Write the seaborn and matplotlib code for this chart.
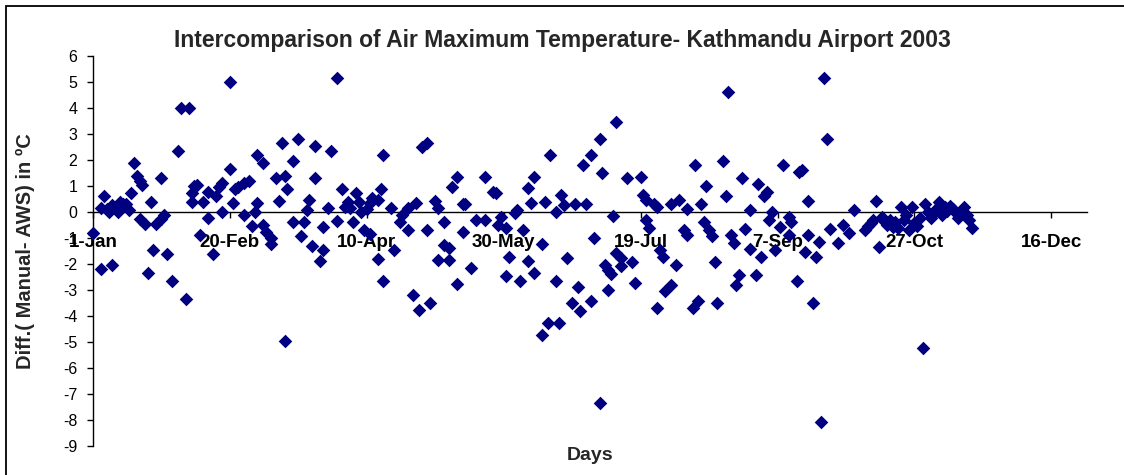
import matplotlib
matplotlib.use("Agg")
import matplotlib.pyplot as plt
import seaborn as sns
import pandas as pd
from matplotlib.patches import Rectangle

# ---------------------------------------
# data: day of year (0 = 1-Jan) and Manual-AWS difference
# ---------------------------------------
days = [
    0, 3, 3, 4, 5, 6, 7, 7, 9, 10, 11, 12, 13, 14, 15, 16, 17, 17, 18, 19,
    20, 21, 22, 23, 25, 25, 26, 27, 29, 31, 32, 34, 35, 36, 36, 37, 38, 39, 40, 42,
    42, 44, 45, 46, 47, 47, 50, 50, 51, 52,
    53, 55, 55, 57, 58, 59, 60, 60, 62, 62, 63, 65, 65, 67, 68, 69, 70, 70, 71, 73,
    73, 75, 76, 77, 78, 79, 80, 81, 81, 83, 84, 84, 86, 87, 89, 89, 91, 92, 93, 94,
    95, 96, 97, 98, 99, 100, 101, 101, 102, 104, 104, 105, 106, 106,
    109, 110, 112, 113, 115, 115, 117, 118, 119, 120, 122, 122, 123, 125, 126, 126, 128, 128, 130, 130,
    131, 133, 133, 135, 135, 136, 138, 140, 143, 143, 146, 147, 148, 149, 151, 151, 152, 154, 155, 156,
    157, 159, 159, 160, 161, 161,
    164, 164, 165, 166, 167, 169, 169, 170, 171, 172, 173, 175, 176, 177, 178, 179, 180, 182, 182, 183,
    185, 185, 186, 187, 188, 188, 189, 190, 191, 191, 193, 193, 195, 197, 198, 200, 201, 202, 202, 203,
    205, 206, 206, 207, 208, 209, 211, 211, 213, 214, 216,
    217, 217, 219, 220, 221, 222, 223, 224, 225, 226, 227, 228, 230, 231, 232, 233, 234, 235, 236, 237,
    238, 240, 240, 242, 243, 244, 245, 246, 247, 248, 249, 251, 252, 254, 254, 255, 257, 258, 259, 260,
    261, 261, 263, 264, 265, 266, 267, 268, 269,
    272, 274, 276, 278, 282, 283, 284, 285, 286, 287, 288, 289, 290, 291, 292, 293, 294, 295, 296, 297,
    298, 299, 300, 301, 302, 303, 304, 305, 306, 307, 308, 309, 310, 311, 312, 313, 314, 315, 316, 317,
    318, 319, 320, 321,
]
diff = [
    -0.8, 0.15, -2.2, 0.6, 0.1, 0.0, -2.05, 0.27, 0.0, 0.4, 0.3, 0.3, 0.08, 0.75, 1.9, 1.4, -0.25, 1.2, 1.05, -0.45,
    -2.35, 0.4, -1.45, -0.45, -0.25, 1.3, -0.12, -1.6, -2.65, 2.35, 4.0, -3.35, 4.0, 0.72, 0.4, 1.0, 1.05, -0.88, 0.4, -0.24,
    0.78, -1.6, 0.63, 0.97, 1.1, 0.0, 5.0, 1.65, 0.33, 0.9,
    0.97, 1.1, -0.12, 1.2, -0.53, 0.0, 2.2, 0.33, 1.87, -0.5, -0.76, -1.0, -1.23, 1.3, 0.44, 2.65, 1.4, -4.95, 0.9, 1.96,
    -0.37, 2.8, -0.92, -0.37, 0.08, 0.46, -1.31, 2.55, 1.3, -1.9, -0.56, -1.46, 0.14, 2.35, 5.15, -0.33, 0.9, 0.2, 0.4, 0.14,
    -0.37, 0.72, 0.4, 0.0, -0.7, 0.1, -0.85, 0.33, 0.53, 0.46, -1.82, 0.9, -2.65, 2.2,
    0.14, -1.46, -0.37, -0.12, 0.14, -0.7, -3.2, 0.33, -3.75, 2.5, -0.7, 2.65, -3.5, 0.44, 0.14, -1.85, -0.37, -1.25, -1.85, -1.4,
    0.97, 1.33, -2.75, 0.31, -0.76, 0.31, -2.17, -0.31, -0.31, 1.36, 0.78, 0.72, -0.5, -0.18, -2.45, -0.63, -1.74, -0.05, 0.08, -2.65,
    -0.7, -1.87, 0.91, 0.33, 1.36, -2.36,
    -1.23, -4.73, 0.37, -4.26, 2.18, 0.0, -2.65, -4.26, 0.65, 0.27, -1.77, -3.49, 0.31, -2.9, -3.81, 1.81, 0.31, -3.41, 2.19, -0.99,
    -7.36, 2.8, 1.51, -2.04, -3.0, -2.23, -2.38, -0.15, 3.47, -1.59, -1.78, -2.08, 1.29, -1.91, -2.72, 1.36, 0.65, 0.46, -0.31, -0.63,
    0.31, -3.7, 0.18, -1.46, -1.74, -3.03, -2.8, 0.31, -2.04, 0.46, -0.7,
    0.1, -0.88, -3.7, 1.81, -3.41, 0.31, -0.37, 1.0, -0.7, -0.92, -1.91, -3.49, 1.96, 0.62, 4.63, -0.88, -1.18, -2.8, -2.42, 1.29,
    -0.67, 0.08, -1.44, -2.42, 1.08, -1.74, 0.62, 0.78, -0.31, 0.0, -1.46, -0.56, 1.81, -0.18, -0.88, -0.37, -2.65, 1.55, 1.6, -1.53,
    0.44, -0.88, -3.49, -1.74, -1.14, -8.06, 5.14, 2.8, -0.67,
    -1.2, -0.5, -0.82, 0.08, -0.7, -0.55, -0.44, -0.3, 0.44, -1.33, -0.18, -0.35, -0.5, -0.3, -0.56, -0.4, -0.6, 0.2, -0.31, -0.12,
    -0.7, 0.2, -0.44, -0.55, -0.24, -5.24, 0.31, 0.0, -0.24, -0.05, 0.1, 0.4, -0.1, 0.2, 0.05, 0.23, 0.1, -0.05, -0.24, 0.0,
    0.2, -0.1, -0.31, -0.63,
]

tick_days = [0, 50, 100, 150, 200, 250, 300, 350]
tick_labels = ["1-Jan", "20-Feb", "10-Apr", "30-May", "19-Jul", "7-Sep", "27-Oct", "16-Dec"]
y_ticks = list(range(-9, 7))

df = pd.DataFrame({"day": days, "diff": diff})

# ---------------------------------------
# plot
# ---------------------------------------
sns.set_style("ticks")
plt.rcParams["font.family"] = ["Liberation Sans", "DejaVu Sans"]

W, H = 1124, 475
fig = plt.figure(figsize=(W / 100, H / 100), dpi=100)
ax = fig.add_axes([93 / W, 29 / H, 994 / W, 390 / H])

sns.scatterplot(data=df, x="day", y="diff", marker="D", s=48, color="#000080",
                linewidth=0, ax=ax, zorder=3, clip_on=False)

# x axis crosses at zero (do this before styling ticks, it resets them)
ax.spines["bottom"].set_position(("data", 0))
ax.spines["top"].set_visible(False)
ax.spines["right"].set_visible(False)
for sp in ["bottom", "left"]:
    ax.spines[sp].set_color("black")
    ax.spines[sp].set_linewidth(1.0)

ax.set_xlim(0, 363)
ax.set_ylim(-9, 6)
ax.set_yticks(y_ticks)
ax.set_yticklabels([str(v) for v in y_ticks])
ax.set_xticks(tick_days)
ax.set_xticklabels(tick_labels)
ax.set_xlabel("")
ax.set_ylabel("")

ax.tick_params(axis="x", direction="out", length=4.3, width=1, pad=11.5,
               colors="black", labelsize=13.5)
ax.tick_params(axis="y", direction="out", length=4.3, width=1, pad=7,
               colors="black", labelsize=11.5)
for lab in ax.get_xticklabels():
    lab.set_fontweight("bold")

fig.text(0.5, 1 - 40 / H, "Intercomparison of Air Maximum Temperature- Kathmandu Airport 2003",
         ha="center", va="center", fontsize=16.5, fontweight="bold")
fig.text(25 / W, 1 - 251 / H, "Diff.( Manual- AWS) in ºC", rotation=90,
         ha="center", va="center", fontsize=14.5, fontweight="bold")
fig.text(590 / W, 1 - 456 / H, "Days", ha="center", va="center",
         fontsize=14, fontweight="bold")

# chart border
fig.add_artist(Rectangle((5.5 / W, -0.1), 2, 1.1 - 6.5 / H, transform=fig.transFigure,
                         fill=False, edgecolor="black", linewidth=1.3))

fig.savefig("out.png", dpi=100)
